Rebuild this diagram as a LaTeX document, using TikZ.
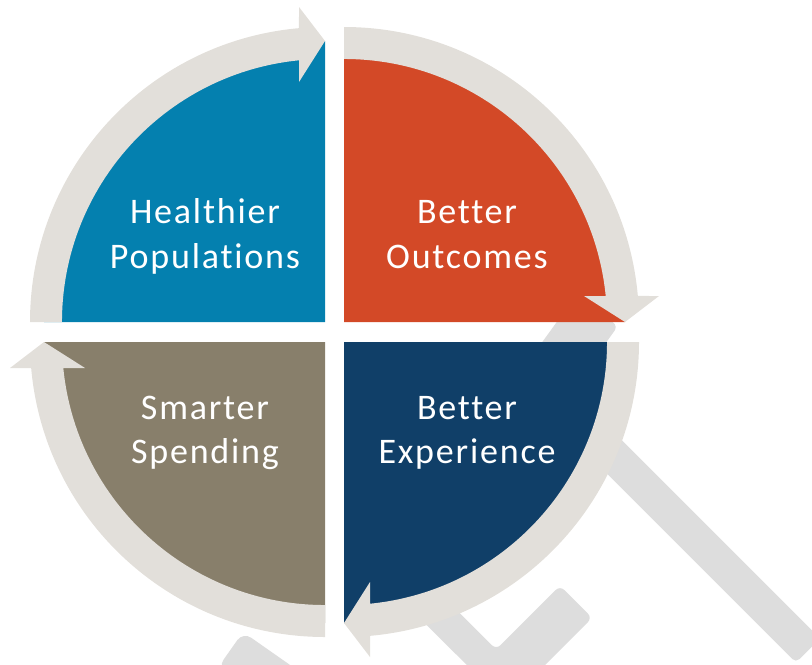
\documentclass[tikz,border=0pt]{standalone}
\usepackage{fontspec}
\setmainfont{Carlito}[Ligatures=NoCommon,LetterSpace=5]
\usetikzlibrary{calc}
\definecolor{qblue}{RGB}{4,128,175}
\definecolor{qred}{RGB}{211,73,39}
\definecolor{qnavy}{RGB}{16,63,104}
\definecolor{qtaupe}{RGB}{136,127,107}
\definecolor{ringc}{RGB}{226,223,218}
\definecolor{iconc}{RGB}{221,221,221}
% #1 = corner coordinate name, #2 = tip angle (pixel frame, y down)
\newcommand\ringarrow[2]{%
  \fill[ringc] ($(#1)+(#2-90:263)$) -- ($(#1)+(#2-90:295)$)
    arc[start angle=#2-90, end angle=#2-5.06, radius=295]
    -- ($(#1)+(#2:315)+(#2-90:26)$)
    -- ($(#1)+(#2:281)$)
    -- ($(#1)+(#2:240)+(#2-90:26)$)
    -- ($(#1)+(#2:261.7)+(#2-90:26)$)
    arc[start angle=#2-5.67, end angle=#2-90, radius=263]
    -- cycle;}
\newcommand\quadsector[3]{%
  \fill[#3] (#1) -- ($(#1)+(#2-90:281)$) arc[start angle=#2-90, end angle=#2, radius=281] -- cycle;}
\begin{document}
\begin{tikzpicture}[x=0.5pt,y=-0.5pt,
  lbl/.style={text=white,font=\fontsize{18}{22}\selectfont,inner sep=0pt,anchor=base},
  iconband/.style={fill=iconc,rounded corners=3pt}]
\useasboundingbox (0,0) rectangle (812,664);
% corners of the four quadrants
\coordinate (cb) at (325,322);
\coordinate (cr) at (344,322);
\coordinate (cn) at (344,342);
\coordinate (ct) at (325,342);
% background icon pieces
\fill[iconband,rounded corners=5pt] (243,632) -- (217.7,668) -- (316,736.9) -- (341.3,700.9) -- cycle;
\fill[iconband] (496.2,649.5) -- (560,585.7) -- (592.2,617.8) -- (505.9,704.1) -- (397.5,595.8) -- (420,573.3) -- cycle;
\fill[iconband] (575.9,295.5) -- (618,326) -- (565.3,398.9) -- (523.2,368.4) -- cycle;
\fill[iconband,rounded corners=2.5pt] (587.1,405.45) -- (820.1,638.45) -- (795.9,662.65) -- (562.9,429.65) -- cycle;
% coloured quadrants
\quadsector{cb}{270}{qblue}
\quadsector{cr}{360}{qred}
\quadsector{cn}{90}{qnavy}
\quadsector{ct}{180}{qtaupe}
% circular arrows
\ringarrow{cb}{270}
\ringarrow{cr}{360}
\ringarrow{cn}{90}
\ringarrow{ct}{180}
% labels
\node[lbl] (hp1) at (205,223.5) {Healthier};
\node[lbl] (hp2) at (205,268) {Populations};
\node[lbl] (bo1) at (467,223.5) {Better};
\node[lbl] (bo2) at (467,268) {Outcomes};
\node[lbl] (ss1) at (205,419.5) {Smarter};
\node[lbl] (ss2) at (205,463) {Spending};
\node[lbl] (be1) at (467,419.5) {Better};
\node[lbl] (be2) at (467,463) {Experience};
\end{tikzpicture}
\end{document}
